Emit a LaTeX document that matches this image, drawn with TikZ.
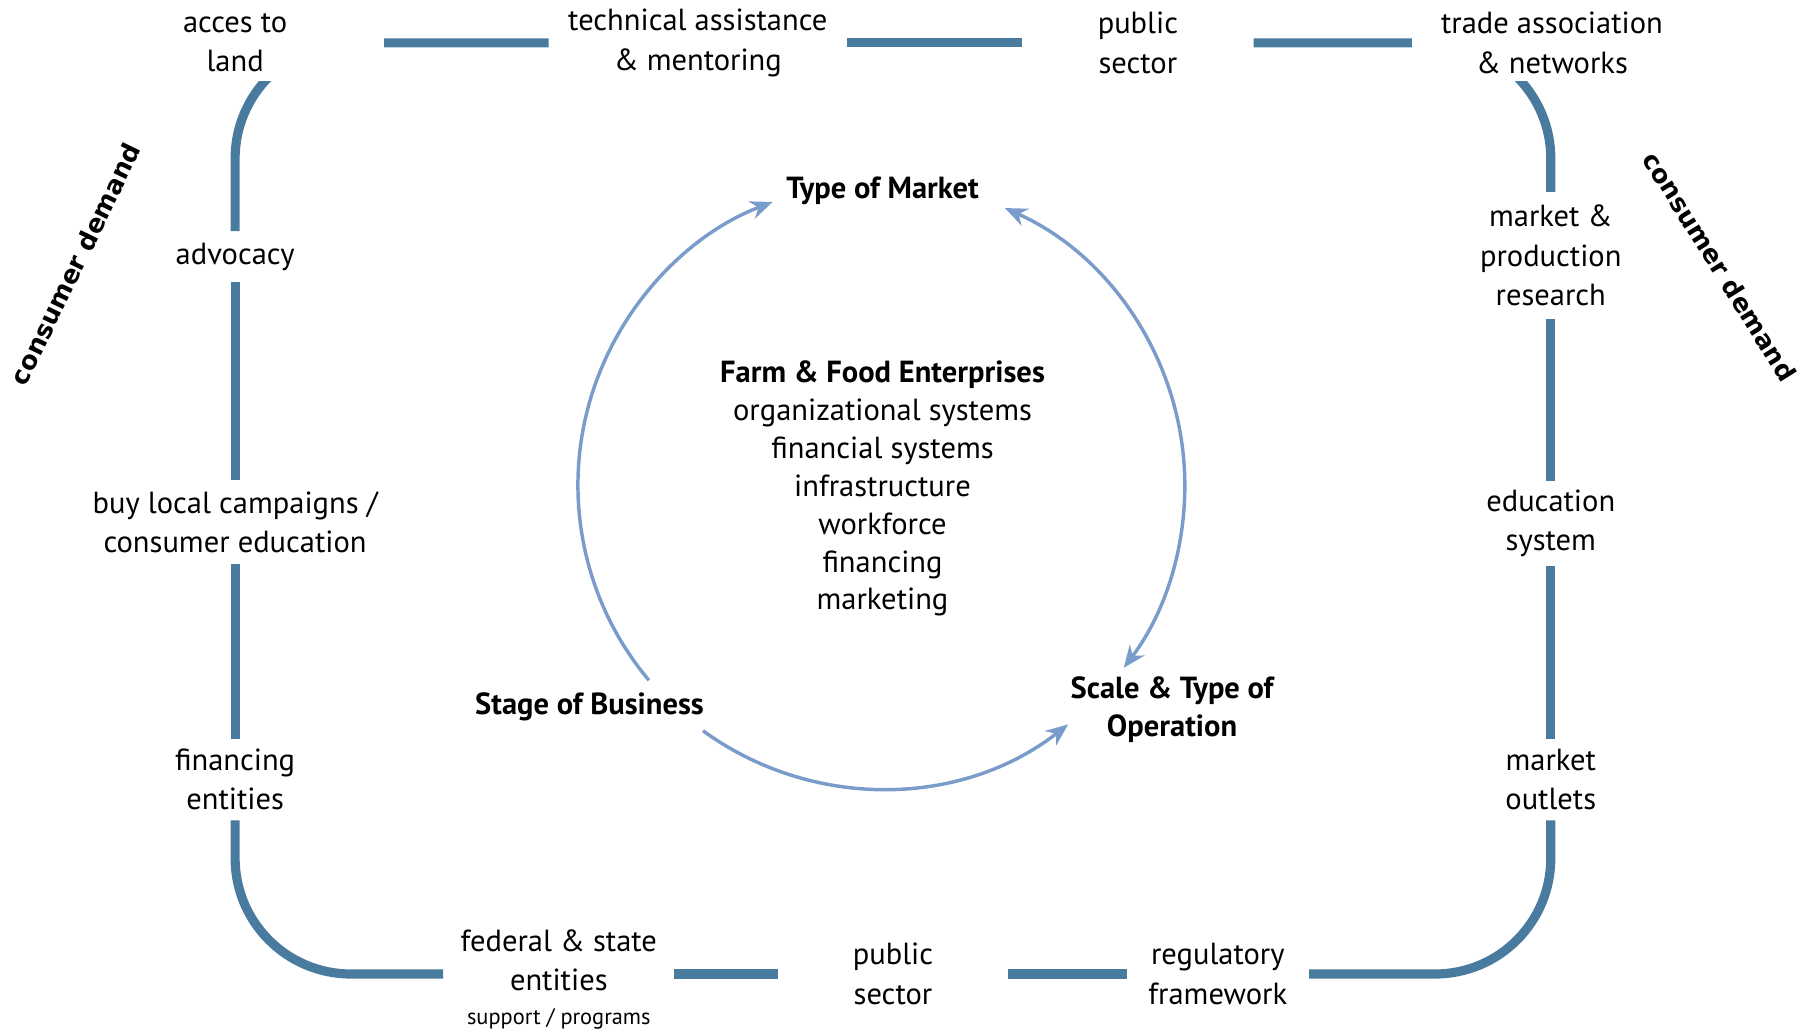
\documentclass[tikz,border=0pt]{standalone}
\usepackage{fontspec}
\setmainfont{PT Sans}
\newfontfamily\demandfont{DejaVu Sans}
\usetikzlibrary{arrows.meta,calc}

\definecolor{ringblue}{HTML}{487B9E}
\definecolor{cycleblue}{HTML}{7A9CCB}

\tikzset{
 ring/.style={draw=ringblue,line width=4.5pt},
 cycle/.style={draw=cycleblue,line width=1.7pt},
 tip/.style={-{Stealth[length=11pt,width=9pt]}},
 lbl/.style={align=center,inner sep=0pt,fill=white,font=\fontsize{15}{19.35}\selectfont},
 core/.style={align=center,inner sep=0pt,font=\fontsize{15}{18.6}\selectfont},
 demand/.style={font=\fontsize{12.5}{15}\selectfont\demandfont\bfseries},
}

\begin{document}
\begin{tikzpicture}[x=0.02cm,y=0.02cm]
\useasboundingbox (0,0) rectangle (1568,889);

% outer ring of support
 \node[lbl,minimum width=5.14cm] (tech) at (602.5,852) {technical assistance\\\& mentoring};
 \node[lbl,minimum width=3.98cm] (pubtop) at (982.5,852) {public\\sector};
 \node[lbl,minimum height=0.86cm] (advoc) at (203,667.5) {advocacy};
 \node[lbl,minimum height=1.44cm] (buylocal) at (203,438) {buy local campaigns /\\consumer education};
 \node[lbl,minimum height=1.4cm] (fininst) at (203,216) {financing\\entities};
 \node[lbl,minimum height=2.18cm] (research) at (1339,668.5) {market \&\\production\\research};
 \node[lbl,minimum height=1.44cm] (edusys) at (1339,437) {education\\system};
 \node[lbl,minimum height=1.4cm] (outlets) at (1339,216) {market\\outlets};
 \node[lbl,minimum width=3.98cm] (fedstate) at (482.5,48) {\rule{0pt}{16pt}federal \& state\\entities\\[-3pt]{\fontsize{11}{13}\selectfont support / programs}};
 \node[lbl,minimum width=3.96cm] (pubbot) at (771,48) {public\\sector};
 \node[lbl,minimum width=3.14cm] (regul) at (1051.5,48) {regulatory\\framework};

 \draw[ring,rounded corners=2cm] (advoc) |- (tech); % top left corner
 \draw[ring] (tech) -- (pubtop);
 \draw[ring,rounded corners=2cm] (research) |- (pubtop); % top right corner
 \draw[ring] (advoc) -- (buylocal);
 \draw[ring] (buylocal) -- (fininst);
 \draw[ring,rounded corners=2cm] (fininst) |- (fedstate); % bottom left corner
 \draw[ring] (fedstate) -- (pubbot);
 \draw[ring] (pubbot) -- (regul);
 \draw[ring,rounded corners=2cm] (outlets) |- (regul); % bottom right corner
 \draw[ring] (outlets) -- (edusys);
 \draw[ring] (edusys) -- (research);

% these two hide the ends of the top corners
 \node[lbl,minimum width=5.16cm,minimum height=1.32cm] (land) at (203,852) {acces to\\land};
 \node[lbl,minimum width=4.84cm,minimum height=1.32cm] (trade) at (1340,852) {trade association\\\& networks};

 \node[demand,rotate=64] (demleft) at (65,661) {consumer demand};
 \node[demand,rotate=-58] (demright) at (1485,659) {consumer demand};

% the enterprise cycle
 \coordinate (hub) at (761,470);
 \node[core,font=\fontsize{15}{18.6}\selectfont\bfseries] (market) at (762,724) {Type of Market};
 \node[core] (farm) at (762,467) {\textbf{Farm \& Food Enterprises}\\organizational systems\\financial systems\\infrastructure\\workforce\\financing\\marketing};
 \node[core,font=\fontsize{15}{18.6}\selectfont\bfseries] (stage) at (509,279) {Stage of Business};
 \node[core,font=\fontsize{15}{18.6}\selectfont\bfseries] (scale) at (1012,276.5) {Scale \& Type of\\Operation};

 \draw[cycle,tip] ($(hub)+(220:262)$) arc[start angle=220,end angle=111,radius=262];
 \draw[cycle,{Stealth[length=11pt,width=9pt]}-{Stealth[length=11pt,width=9pt]}] ($(hub)+(66:262)$) arc[start angle=66,end angle=-37,radius=262];
 \draw[cycle,tip] ($(hub)+(234:262)$) arc[start angle=234,end angle=308,radius=262];

\end{tikzpicture}
\end{document}
